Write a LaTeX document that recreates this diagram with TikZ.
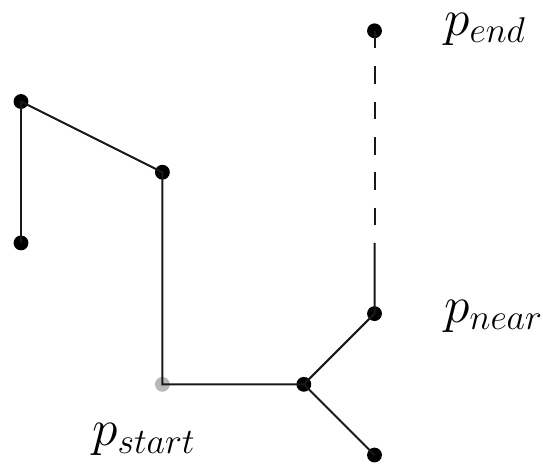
\documentclass[tikz,border=0pt]{standalone}
\usepackage{amsmath,amssymb}
\usepackage{xcolor}
\usepackage{tikz}
\usetikzlibrary{positioning,calc}

\begin{document}
\begin{tikzpicture}[font=\huge,
  pt/.style={circle, fill=black, inner sep=0pt, minimum size=0.21cm},
  startpt/.style={pt, fill=black!28},
  seg/.style={line width=0.8pt, black!90}]
  \useasboundingbox (-0.297,-0.141) rectangle (7.383,6.436);

  % Start point (grey, drawn under the path)
  \node[startpt] (s) at (2, 1) {};

  % Path points
  \node[pt] (a) at (0, 5) {};
  \node[pt] (b) at (2, 4) {};
  \node[pt] (c) at (0, 3) {};
  \node[pt] (j) at (4, 1) {};
  \node[pt] (n) at (5, 2) {};
  \node[pt] (d) at (5, 0) {};
  \node[pt] (e) at (5, 6) {};
  \coordinate (m) at (5, 3);

  % Tree edges
  \draw[seg] (c.center) -- (a.center) -- (b.center) -- (s.center) -- (j.center) -- (n.center) -- (m);
  \draw[seg] (j.center) -- (d.center);
  % Dashed link to the goal
  \draw[seg, dash pattern=on 0.25cm off 0.25cm] (e.center) -- (m);

  % Labels
  \node[anchor=base west, inner sep=0pt] (lend) at (5.98, 5.94) {$p_{end}$};
  \node[anchor=base west, inner sep=0pt] (lnear) at (5.98, 1.88) {$p_{near}$};
  \node[anchor=base west, inner sep=0pt] (lstart) at (1.0, 0.13) {$p_{start}$};
\end{tikzpicture}
\end{document}
